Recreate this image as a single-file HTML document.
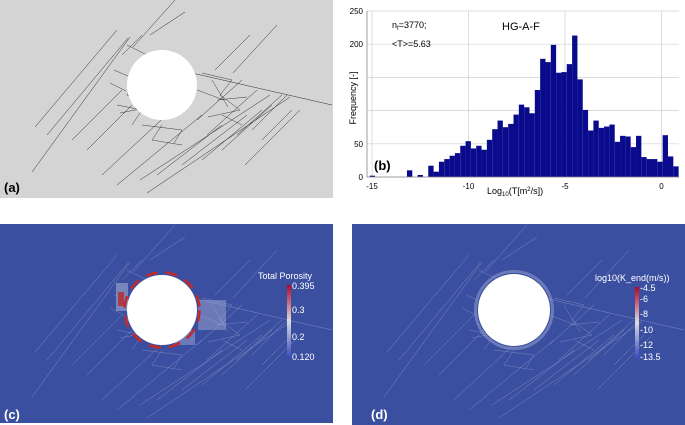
<!DOCTYPE html>
<html><head><meta charset="utf-8"><style>
body{margin:0;background:#fff;width:685px;height:425px;overflow:hidden;font-family:"Liberation Sans",sans-serif}
svg{display:block}
</style></head><body>
<svg width="685" height="425" xmlns="http://www.w3.org/2000/svg">
<defs>
<g id="frac">
<path d="M-127,42 L-45,-55 M-130,87 L-32,-48 M-115,50 L-34,-47 M-29,-38 L13,-85 M-12,-50 L23,-73 M71,-12 L115,-60 M53,-15 L88,-50 M-15,108 L128,12 M-22,95 L108,10 M83,80 L138,25 M-60,90 L10,25 M-45,100 L40,30 M-5,90 L60,40 M20,80 L85,30 M40,75 L100,25 M60,65 L110,20 M75,50 L120,10 M90,45 L125,10 M100,55 L130,25 M-90,55 L-40,5 M-75,65 L-30,20 M35,35 L80,-5 M45,50 L95,5 M30,-12 L170,20" stroke-width="0.5" fill="none"/>
<path d="M-48,-15 L-25,-5 L-35,10 L-12,22 L-42,28 M-52,-2 L-36,6 M-45,20 L-20,25 L-30,40 M40,-12 L70,-5 L58,10 L78,25 L46,32 M35,5 L62,15 M50,-5 L66,22 M55,15 L85,12 M-20,40 L20,45 L12,58 M-35,-40 L-15,-30 M-40,-30 L-20,-50 M20,-20 L10,-30 M0,40 L-10,55 L20,60 M60,30 L80,40" stroke-width="0.45" fill="none"/>
</g>
</defs>

<g>
<rect x="0" y="0" width="333" height="198" fill="#d4d4d4"/>
<use href="#frac" x="162" y="85" stroke="#2a2a2a"/>
<circle cx="162" cy="85" r="35" fill="#fff"/>
<text x="4" y="192" font-size="13" font-weight="bold" fill="#000">(a)</text>
</g>

<g>
<rect x="0" y="224" width="333" height="199" fill="#3b4fa0"/>
<use href="#frac" x="162" y="310" stroke="#7f8bc0"/>
<g>
<rect x="116" y="283" width="12" height="28" fill="#b8bedc" opacity="0.5"/>
<rect x="118" y="292" width="6" height="14" fill="#b82828" opacity="0.8"/>
<rect x="198" y="300" width="28" height="30" fill="#a8b0d8" opacity="0.45"/>
<rect x="175" y="330" width="20" height="15" fill="#a8b0d8" opacity="0.45"/>
</g>
<circle cx="162" cy="310" r="37.5" fill="none" stroke="#c02a2a" stroke-width="2.5" stroke-dasharray="12 8"/>
<circle cx="162" cy="310" r="35" fill="#fff"/>
<text x="258" y="279" font-size="9" fill="#fff">Total Porosity</text>
<defs><linearGradient id="cb" x1="0" y1="0" x2="0" y2="1"><stop offset="0" stop-color="#b40426"/><stop offset="0.5" stop-color="#dddddd"/><stop offset="1" stop-color="#3b4cc0"/></linearGradient></defs>
<rect x="287" y="285" width="4" height="72" fill="url(#cb)"/>
<g font-size="9" fill="#fff">
<text x="292" y="289">0.395</text>
<text x="292" y="313">0.3</text>
<text x="292" y="340">0.2</text>
<text x="292" y="360">0.120</text>
</g>
<text x="4" y="419" font-size="13" font-weight="bold" fill="#fff">(c)</text>
</g>

<g>
<rect x="352" y="224" width="333" height="201" fill="#3b4fa0"/>
<use href="#frac" x="514" y="310" stroke="#7f8bc0"/>
<circle cx="514" cy="310" r="38.5" fill="none" stroke="#9ca6d2" stroke-width="3" opacity="0.5"/>
<circle cx="514" cy="310" r="36" fill="#fff"/>
<text x="595" y="281" font-size="9" fill="#fff">log10(K_end(m/s))</text>
<rect x="635" y="287" width="4" height="71" fill="url(#cb)"/>
<g font-size="9" fill="#fff">
<text x="640" y="291">-4.5</text>
<text x="640" y="302">-6</text>
<text x="640" y="317">-8</text>
<text x="640" y="333">-10</text>
<text x="640" y="348">-12</text>
<text x="640" y="360">-13.5</text>
</g>
<text x="371" y="419" font-size="13" font-weight="bold" fill="#fff">(d)</text>
</g>

<g id="hist"></g>
</svg>
<script>
const counts = [2,0,0,0,0,0,0,10,0,3,0,17,8,23,27,32,36,47,54,43,47,41,56,72,85,75,80,94,109,105,96,131,178,173,199,157,158,170,213,147,101,70,85,74,76,79,53,62,61,45,62,30,27,27,23,63,31,16];
const binStart = -15.12;
const binWidth = 0.276;
const xTicks = [-15,-10,-5,0];
const yTicks = [0,50,100,150,200,250];
const yTickLabels = ["0","50","","","200","250"];

const NS="http://www.w3.org/2000/svg";
const g=document.getElementById('hist');
const X0=372, XPU=19.3, Y0=177, YPU=166/250;
const sx=v=>X0+(v+15)*XPU;
const sy=v=>Y0-v*YPU;
const L=367, R=679;
function mk(t,a){const e=document.createElementNS(NS,t);for(const k in a)e.setAttribute(k,a[k]);g.appendChild(e);return e;}
yTicks.forEach((v,i)=>{
 const l=mk('line',{x1:L,x2:R,y1:sy(v),y2:sy(v),stroke:'#d0d0d0','stroke-width':0.7});
 
 
 const t=mk('text',{x:L-4,y:sy(v)+3,'font-size':8,'text-anchor':'end',fill:'#000'});
 t.textContent=yTickLabels[i];
 
 
});
xTicks.forEach(v=>{
 const l=mk('line',{x1:sx(v),x2:sx(v),y1:sy(250),y2:Y0,stroke:'#d0d0d0','stroke-width':0.7});
 
 
 const t=mk('text',{x:sx(v),y:Y0+12,'font-size':8,'text-anchor':'middle',fill:'#000'});
 t.textContent=v;
 
 
});
counts.forEach((c,k)=>{
 if(!c)return;
 let x1=sx(binStart+k*binWidth), x2=sx(binStart+(k+1)*binWidth);
 x1=Math.max(x1,L);
 const r=mk('rect',{x:x1,y:sy(c),width:x2-x1,height:Y0-sy(c),fill:'#0a0a8c'});
 
 
});
const ax=mk('line',{x1:L,x2:L,y1:sy(250),y2:Y0,stroke:'#888','stroke-width':0.8});


const bx=mk('line',{x1:L,x2:R,y1:Y0,y2:Y0,stroke:'#888','stroke-width':0.8});


function txt(x,y,s,size,name,extra){const t=mk('text',Object.assign({x:x,y:y,'font-size':size,fill:'#000'},extra||{}));t.innerHTML=s;return t;}
txt(392,28,'n<tspan font-size="6" dy="2">f</tspan><tspan dy="-2">=3770;</tspan>',9,'nf-annotation');
txt(392,47,'&lt;T&gt;=5.63',9,'mean-t-annotation');
txt(502,30,'HG-A-F',11,'histogram-title');
txt(374,170,'(b)',13,'panel-b-label',{'font-weight':'bold'});
txt(487,194,'Log<tspan font-size="6" dy="2">10</tspan><tspan dy="-2">(T[m</tspan><tspan font-size="6" dy="-3">2</tspan><tspan dy="3">/s])</tspan>',9,'x-axis-title');
txt(0,0,'Frequency [-]',9,'y-axis-title',{'text-anchor':'middle',transform:'translate(356,98) rotate(-90)'});
</script>
</body></html>
